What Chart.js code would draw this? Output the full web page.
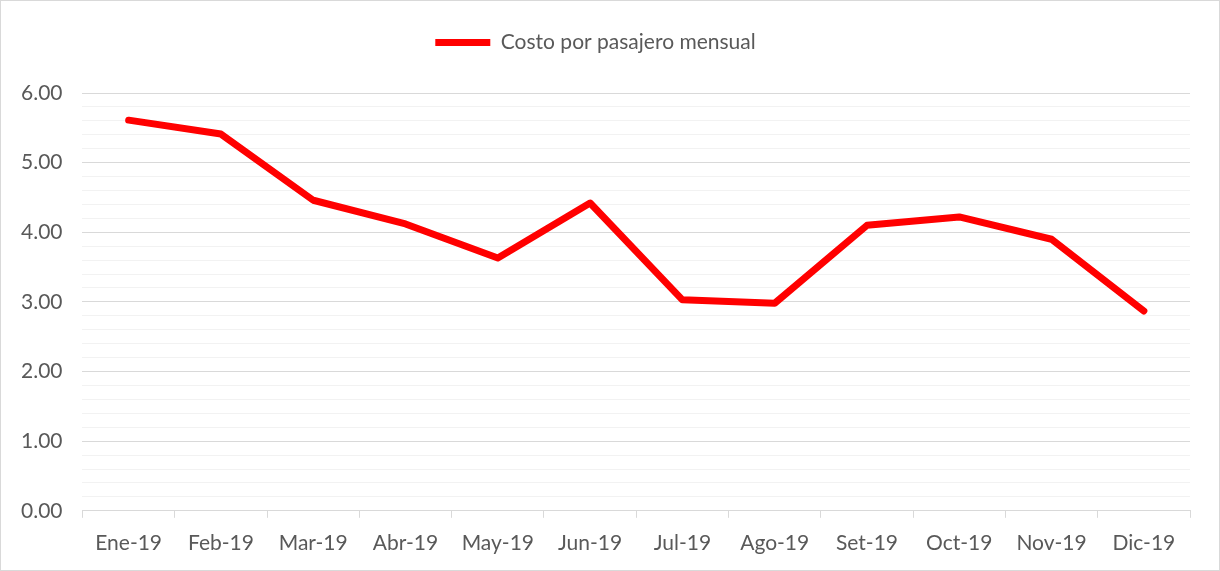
<!DOCTYPE html>
<html>
<head>
<meta charset="utf-8">
<script src="https://cdn.jsdelivr.net/npm/chart.js@4"></script>
<style>
  html, body { margin: 0; padding: 0; background: #fff; }
  #wrap { position: relative; width: 1220px; height: 571px; box-sizing: border-box; border: 1px solid #d9d9d9; }
</style>
</head>
<body>
<div id="wrap"><canvas id="graphCosto" width="1218" height="569"></canvas></div>
<script>
const meses = ['Ene-19', 'Feb-19', 'Mar-19', 'Abr-19', 'May-19', 'Jun-19', 'Jul-19', 'Ago-19', 'Set-19', 'Oct-19', 'Nov-19', 'Dic-19'];
const costoPasajero = [5.61, 5.41, 4.46, 4.12, 3.63, 4.42, 3.03, 2.98, 4.10, 4.22, 3.90, 2.87];
const ejeYMin = 0;
const ejeYMax = 6;
const pasoMenor = 0.2;

const ctx = document.getElementById('graphCosto');
const fuente = { family: 'Lato, "Open Sans", sans-serif', size: 21 };
const gris = '#595959';

// espacio extra debajo de la leyenda
const espacioLeyenda = {
  id: 'espacioLeyenda',
  beforeInit(chart) {
    const fitOriginal = chart.legend.fit;
    chart.legend.fit = function () {
      fitOriginal.bind(this)();
      this.height += 30;
    };
  }
};

new Chart(ctx, {
  type: 'line',
  data: {
    labels: meses,
    datasets: [{
      label: 'Costo por pasajero mensual',
      data: costoPasajero,
      borderColor: '#ff0000',
      backgroundColor: '#ff0000',
      borderWidth: 7,
      borderCapStyle: 'round',
      borderJoinStyle: 'round',
      pointRadius: 0,
      tension: 0
    }]
  },
  options: {
    responsive: false,
    animation: false,
    layout: { padding: { left: 0, right: 29, top: 9, bottom: 1 } },
    scales: {
      x: {
        offset: true,
        grid: { offset: true, drawOnChartArea: false, tickLength: 7, color: '#d9d9d9' },
        border: { color: '#d9d9d9', width: 1 },
        ticks: { color: gris, font: fuente, padding: 13, maxRotation: 0 }
      },
      y: {
        min: ejeYMin,
        max: ejeYMax,
        border: { display: false },
        grid: {
          tickLength: 0,
          color: c => Math.abs(c.tick.value - Math.round(c.tick.value)) < 1e-6 ? '#d9d9d9' : '#f2f2f2'
        },
        ticks: {
          stepSize: pasoMenor,
          autoSkip: false,
          color: gris,
          font: fuente,
          padding: 20,
          callback: v => Math.abs(v - Math.round(v)) < 1e-6 ? v.toFixed(2) : ''
        }
      }
    },
    plugins: {
      tooltip: { enabled: false },
      legend: {
        position: 'top',
        labels: {
          color: gris,
          font: fuente,
          usePointStyle: true,
          pointStyle: 'line',
          pointStyleWidth: 55,
          padding: 22
        }
      }
    }
  },
  plugins: [espacioLeyenda]
});
</script>
</body>
</html>
